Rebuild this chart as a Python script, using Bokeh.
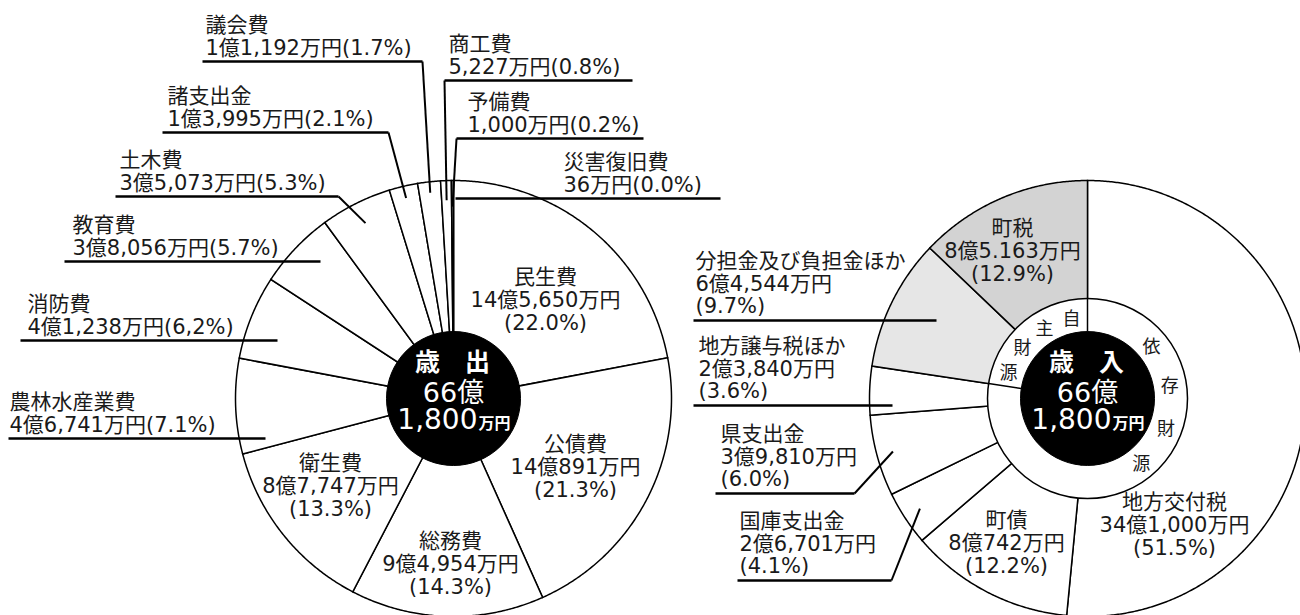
import numpy as np
from bokeh.plotting import figure
from bokeh.models import Range1d
from bokeh.core.properties import value
from bokeh.embed import file_html
from bokeh.resources import INLINE

# ---------------- data ----------------
exp_names = ["民生費", "公債費", "総務費", "衛生費", "農林水産業費", "消防費", "教育費",
             "土木費", "諸支出金", "議会費", "商工費", "予備費", "災害復旧費"]
exp_values = [145650, 140891, 94954, 87747, 46741, 41238, 38056, 35073, 13995, 11192, 5227, 1000, 36]
exp_amounts = ["14億5,650万円", "14億891万円", "9億4,954万円", "8億7,747万円", "4億6,741万円",
               "4億1,238万円", "3億8,056万円", "3億5,073万円", "1億3,995万円", "1億1,192万円",
               "5,227万円", "1,000万円", "36万円"]
exp_pcts = ["22.0%", "21.3%", "14.3%", "13.3%", "7.1%", "6,2%", "5.7%", "5.3%", "2.1%", "1.7%",
            "0.8%", "0.2%", "0.0%"]

rev_names = ["地方交付税", "町債", "国庫支出金", "県支出金", "地方譲与税ほか", "分担金及び負担金ほか", "町税"]
rev_values = [341000, 80742, 26701, 39810, 23840, 64544, 85163]
rev_amounts = ["34億1,000万円", "8億742万円", "2億6,701万円", "3億9,810万円", "2億3,840万円",
               "6億4,544万円", "8億5.163万円"]
rev_pcts = ["51.5%", "12.2%", "4.1%", "6.0%", "3.6%", "9.7%", "12.9%"]
rev_groups = ["依存財源", "依存財源", "依存財源", "依存財源", "依存財源", "自主財源", "自主財源"]

center_titles = ["歳　出", "歳　入"]
center_oku = "66億"
center_man = "1,800"

# ---------------- layout / style ----------------
W, H = 1300, 615
FONT = value("DejaVu Sans, Noto Sans CJK JP")
CJK = value("Noto Sans CJK JP")
TXT = "#1a1a1a"
R, R_IN, R_RING = 218, 67, 100
LC = (453.0, 398.0)
RC = (1087.0, 398.0)

exp_fill = ["white"] * len(exp_names)
rev_fill = ["white", "white", "white", "white", "white", "#e6e6e6", "#d3d3d3"]

exp_layout = {
    "民生費": dict(kind="in", x=545, y=276),
    "公債費": dict(kind="in", x=575, y=443),
    "総務費": dict(kind="in", x=450, y=540),
    "衛生費": dict(kind="in", x=330, y=462),
    "農林水産業費": dict(kind="out2", x=9, u=(8, 265, 438)),
    "消防費": dict(kind="out2", x=27, u=(20, 277, 340)),
    "教育費": dict(kind="out2", x=72, u=(64, 320, 261)),
    "土木費": dict(kind="out2", x=119, u=(115, 338, 196), lead=("end", 0.90)),
    "諸支出金": dict(kind="out2", x=167, u=(162, 388, 132), lead=("end", 0.945)),
    "議会費": dict(kind="out2", x=205, u=(202, 422, 61), lead=("end", 0.95)),
    "商工費": dict(kind="out2", x=448, u=(444, 632, 80), lead=("start", 0.91)),
    "予備費": dict(kind="out2", x=467, u=(456, 643, 138), lead=("start", 0.88)),
    "災害復旧費": dict(kind="out2", x=563, u=(455, 720, 198)),
}
rev_layout = {
    "地方交付税": dict(kind="in", x=1174, y=501),
    "町債": dict(kind="in", x=1006, y=519),
    "町税": dict(kind="in", x=1012, y=227),
    "分担金及び負担金ほか": dict(kind="out3", x=695, u=(693, 936, 320)),
    "地方譲与税ほか": dict(kind="out3", x=698, u=(693, 892, 405)),
    "県支出金": dict(kind="out3", x=720, u=(715, 854, 493), lead=("end", 0.925)),
    "国庫支出金": dict(kind="out3", x=739, u=(737, 891, 580), lead=("end", 0.92)),
}
# ring characters: angle (deg, clockwise from top) of first char and step
ring_text_layout = {"自主財源": (349, -20), "依存財源": (50, 30)}

p = figure(width=W, height=H, x_range=Range1d(0, W), y_range=Range1d(H, 0),
           output_backend="svg", toolbar_location=None, min_border=0,
           x_axis_location=None, y_axis_location=None,
           background_fill_color="white", border_fill_color="white")
p.grid.visible = False
p.outline_line_color = None


def fractions(values):
    v = np.asarray(values, dtype=float)
    c = np.concatenate([[0.0], np.cumsum(v)]) / v.sum()
    return c[:-1], c[1:]


def pt(c, r, frac):
    th = 2 * np.pi * np.asarray(frac)
    return c[0] + r * np.sin(th), c[1] - r * np.cos(th)


def draw_pie(c, values, fills):
    s, e = fractions(values)
    xs, ys = [], []
    for a, b in zip(s, e):
        n = max(3, int((b - a) * 900) + 3)
        t = np.linspace(a, b, n)
        x, y = pt(c, R, t)
        xs.append([c[0]] + list(x))
        ys.append([c[1]] + list(y))
    p.patches(xs, ys, fill_color=fills, line_color="black", line_width=1.5, line_join="miter")
    return s, e


def text_rows(xs, ys, texts, align, size="21px", font=FONT, color=TXT, style="normal", baseline="middle"):
    p.text(x=xs, y=ys, text=texts, text_font=font, text_font_size=size, text_align=align,
           text_baseline=baseline, text_color=color, text_font_style=style)


def draw_labels(c, names, amounts, pcts, layout, s, e):
    ux0, ux1, uy = [], [], []
    lx0, ly0, lx1, ly1 = [], [], [], []
    for i, nm in enumerate(names):
        L = layout[nm]
        if L["kind"] == "in":
            rows = [nm, amounts[i], "(" + pcts[i] + ")"]
            text_rows([L["x"]] * 3, [L["y"] + 23 * k for k in range(3)], rows, "center")
        else:
            x0, x1, yu = L["u"]
            if L["kind"] == "out2":
                rows = [nm, amounts[i] + "(" + pcts[i] + ")"]
                ys = [yu - 37, yu - 14]
            else:
                rows = [nm, amounts[i], "(" + pcts[i] + ")"]
                ys = [yu - 60, yu - 37, yu - 15]
            text_rows([L["x"]] * len(rows), ys, rows, "left")
            ux0.append(x0); ux1.append(x1); uy.append(yu)
            if "lead" in L:
                side, rf = L["lead"]
                mx, my = pt(c, R * rf, (s[i] + e[i]) / 2)
                lx0.append(x1 if side == "end" else x0); ly0.append(yu)
                lx1.append(float(mx)); ly1.append(float(my))
    p.segment(x0=ux0, y0=uy, x1=ux1, y1=uy, line_color="black", line_width=2.6)
    if lx0:
        p.segment(x0=lx0, y0=ly0, x1=lx1, y1=ly1, line_color="black", line_width=2.0)


def draw_center(c, title):
    p.circle(x=[c[0]], y=[c[1]], radius=R_IN, fill_color="black", line_color="black")
    text_rows([c[0] - 1], [c[1] - 39], [title], "center", size="25px", font=CJK, color="white", style="bold")
    text_rows([c[0]], [c[1] - 6], [center_oku], "center", size="27px", color="white")
    text_rows([c[0] + 24], [c[1] + 20], [center_man], "right", size="28px", color="white")
    text_rows([c[0] + 25], [c[1] + 23], ["万円"], "left", size="16px", font=CJK, color="white", style="bold")


# ---- left pie (歳出)
s1, e1 = draw_pie(LC, exp_values, exp_fill)
draw_labels(LC, exp_names, exp_amounts, exp_pcts, exp_layout, s1, e1)
draw_center(LC, center_titles[0])

# ---- right pie (歳入)
s2, e2 = draw_pie(RC, rev_values, rev_fill)
p.annulus(x=[RC[0]], y=[RC[1]], inner_radius=R_IN, outer_radius=R_RING, fill_color="white", line_color=None)
p.circle(x=[RC[0]], y=[RC[1]], radius=R_RING, fill_color=None, line_color="black", line_width=1.5)
# group boundaries through the ring
bounds = []
for i in range(len(rev_groups)):
    j = (i - 1) % len(rev_groups)
    if rev_groups[i] != rev_groups[j]:
        bounds.append(s2[i])
bx0, by0 = pt(RC, R_IN, bounds)
bx1, by1 = pt(RC, R_RING, bounds)
p.segment(x0=list(bx0), y0=list(by0), x1=list(bx1), y1=list(by1), line_color="black", line_width=1.5)
draw_labels(RC, rev_names, rev_amounts, rev_pcts, rev_layout, s2, e2)
for grp, (a0, step) in ring_text_layout.items():
    ang = [(a0 + step * k) / 360.0 for k in range(len(grp))]
    tx, ty = pt(RC, 83.5, ang)
    text_rows(list(tx), list(ty), list(grp), "center", size="18px", font=CJK)
draw_center(RC, center_titles[1])

open("out.html", "w").write(file_html(p, INLINE))
